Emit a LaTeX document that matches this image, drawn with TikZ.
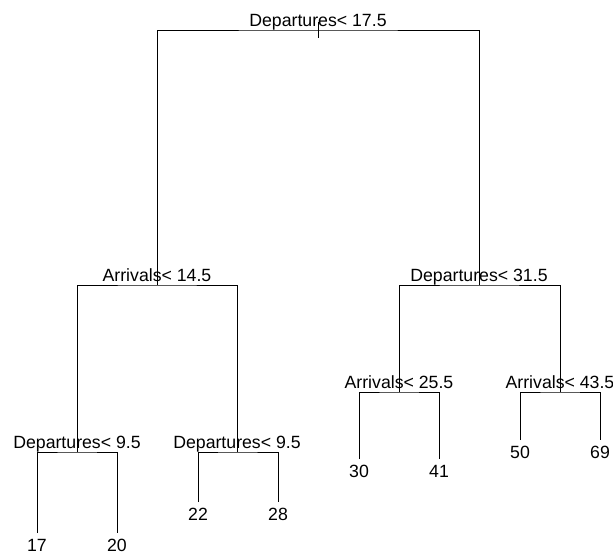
\documentclass[tikz,border=0pt]{standalone}
\usepackage{fontspec}
\setmainfont{Liberation Sans}
\begin{document}
\begin{tikzpicture}[x=1pt, y=-1pt,
  edge/.style={line width=0.8pt, black},
  split/.style={anchor=base, inner sep=0pt, yshift=4pt,
    font=\fontsize{17.7}{20}\selectfont},
  leaf/.style={anchor=base, inner sep=0pt, yshift=-18pt,
    font=\fontsize{17.7}{20}\selectfont}]
\useasboundingbox (0,0) rectangle (613,554);

% split points (centre of each horizontal bar)
\coordinate (n1) at (318,30);
\coordinate (n2) at (157,285);
\coordinate (n3) at (479,285);
\coordinate (n4) at (77,452);
\coordinate (n5) at (237,452);
\coordinate (n6) at (399,392);
\coordinate (n7) at (560,392);

% lower ends of the terminal branches
\coordinate (l17) at (37,533);
\coordinate (l20) at (117,533);
\coordinate (l22) at (198,502);
\coordinate (l28) at (278,502);
\coordinate (l30) at (359,459);
\coordinate (l41) at (439,459);
\coordinate (l50) at (520,440);
\coordinate (l69) at (600,440);

% branches
\draw[edge] (n1) ++(0,-8) -- ++(0,16);
\draw[edge] (n2) |- (n1) -| (n3);
\draw[edge] (n4) |- (n2) -| (n5);
\draw[edge] (n6) |- (n3) -| (n7);
\draw[edge] (l17) |- (n4) -| (l20);
\draw[edge] (l22) |- (n5) -| (l28);
\draw[edge] (l30) |- (n6) -| (l41);
\draw[edge] (l50) |- (n7) -| (l69);

% split labels
\node[split] (t1) at (n1) {Departures< 17.5};
\node[split] (t2) at (n2) {Arrivals< 14.5};
\node[split] (t3) at (n3) {Departures< 31.5};
\node[split] (t4) at (n4) {Departures< 9.5};
\node[split] (t5) at (n5) {Departures< 9.5};
\node[split] (t6) at (n6) {Arrivals< 25.5};
\node[split] (t7) at (n7) {Arrivals< 43.5};

% fitted values at the leaves
\node[leaf] (v17) at (l17) {17};
\node[leaf] (v20) at (l20) {20};
\node[leaf] (v22) at (l22) {22};
\node[leaf] (v28) at (l28) {28};
\node[leaf] (v30) at (l30) {30};
\node[leaf] (v41) at (l41) {41};
\node[leaf] (v50) at (l50) {50};
\node[leaf] (v69) at (l69) {69};
\end{tikzpicture}
\end{document}
